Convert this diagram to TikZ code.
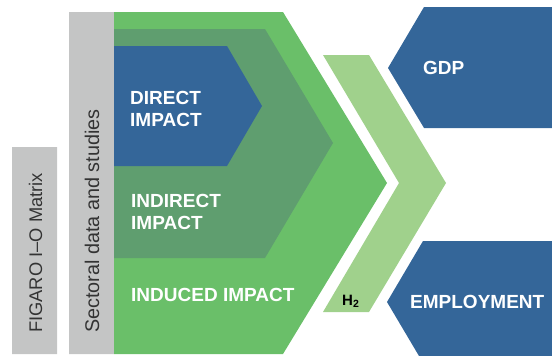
\documentclass[tikz,border=0pt]{standalone}
\usepackage{fontspec}
\setmainfont{Liberation Sans}
\definecolor{impblue}{HTML}{346699}
\definecolor{impgreen}{HTML}{6ABF69}
\definecolor{impdark}{HTML}{5F9E6F}
\definecolor{implight}{HTML}{A0D18C}
\definecolor{impgray}{HTML}{C4C5C5}
\begin{document}
\begin{tikzpicture}[x=1pt,y=-1pt,line join=miter,
		lbl/.style={text=white,font=\fontsize{19}{21.5}\selectfont\bfseries,anchor=base west,inner sep=0pt,align=left},
		vlbl/.style={text=black!80,rotate=90,anchor=base west,inner sep=0pt}]
	\useasboundingbox (0,0) rectangle (552,356);
	% gray bars
	\fill[impgray] (12,147) rectangle (57,354) (69,12) rectangle (114,354);
	% impact chevrons
	\fill[impgreen] (114,12)--(283,12)--(387,183)--(283,354)--(114,354)--cycle;
	\fill[impdark] (114,29)--(265,29)--(333,143)--(265,258)--(114,258)--cycle;
	\fill[impblue] (114,46)--(227,46)--(262,106)--(227,166)--(114,166)--cycle;
	% H2 chevron
	\fill[implight] (323,55)--(369,55)--(446,183)--(369,312)--(323,312)--(399,183)--cycle;
	% results
	\fill[impblue] (424,7)--(552,7)--(552,128)--(424,128)--(388,68)--cycle;
	\fill[impblue] (423,241)--(552,241)--(552,356)--(419,356)--(387,302)--cycle;
	% labels
	\node[vlbl,font=\fontsize{18.3}{20}\selectfont] (figaro) at (42,333) {FIGARO I--O Matrix};
	\node[vlbl,font=\fontsize{19.8}{20}\selectfont] (sector) at (99,333) {Sectoral data and studies};
	\foreach \n/\x/\y/\t in {direct/130/126/{DIRECT\\IMPACT},indirect/131/229/{INDIRECT\\IMPACT},
		induced/131/301/{INDUCED IMPACT},gdp/423/74/{GDP},employ/410/308/{EMPLOYMENT}}
	{\node[lbl] (\n) at (\x,\y) {\t};}
	\node[anchor=base west,inner sep=0pt,font=\fontsize{15}{16}\selectfont\bfseries] (htwo) at (342,305) {H$_\mathbf{2}$};
\end{tikzpicture}
\end{document}
